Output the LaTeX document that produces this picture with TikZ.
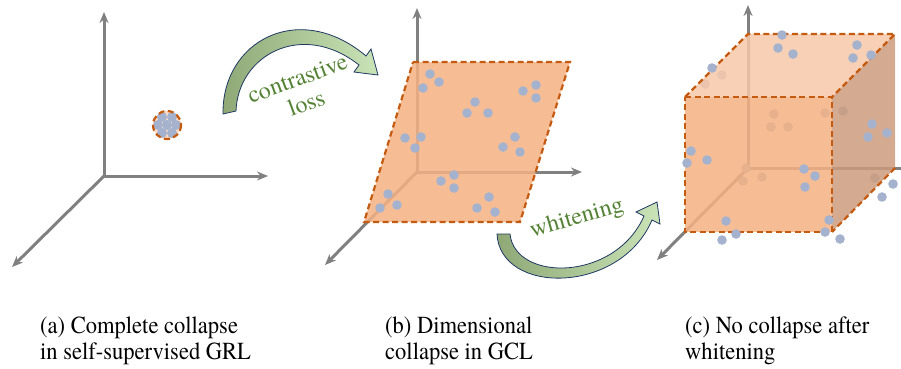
\documentclass[tikz,border=0pt]{standalone}
\usepackage{fontspec}
\IfFontExistsTF{texgyretermes-regular.otf}
  {\setmainfont{texgyretermes-regular.otf}[BoldFont=texgyretermes-bold.otf]
   \newfontfamily\timesface{texgyretermes-regular.otf}
   \newfontfamily\capface{texgyretermes-regular.otf}[FakeStretch=0.92]}
  {\setmainfont{Liberation Serif}
   \newfontfamily\timesface{Liberation Serif}
   \newfontfamily\capface{Liberation Serif}[FakeStretch=0.92]}
\usetikzlibrary{arrows.meta, calc}

\definecolor{axisgray}{RGB}{128,128,128}
\definecolor{rimorange}{RGB}{197,90,17}
\definecolor{planefill}{RGB}{244,177,131}
\definecolor{topfill}{RGB}{247,200,168}
\definecolor{sidefill}{RGB}{204,156,124}
\definecolor{clusterfill}{RGB}{250,218,196}
\definecolor{beadblue}{RGB}{164,178,206}
\definecolor{leafgreen}{RGB}{84,130,53}
\definecolor{arrowdark}{RGB}{143,168,118}
\definecolor{arrowlight}{RGB}{202,228,184}
\definecolor{arrowrim}{RGB}{31,56,100}

\tikzset{
  axisarrow/.style={axisgray, line width=3pt, -{Stealth[length=11pt,width=9pt]}},
  rim/.style={rimorange, line width=2.2pt, dash pattern=on 6pt off 3.5pt},
  bead/.style={fill=beadblue},
  bendarrow/.style={draw=arrowrim, line width=0.8pt, left color=arrowdark, right color=arrowlight},
  caption/.style={anchor=north west, align=left, inner sep=0pt, font=\capface\fontsize{24.5}{26}\selectfont},
  lossword/.style={text=leafgreen, inner sep=0pt, align=center, font=\timesface\fontsize{24}{26}\selectfont},
}

\begin{document}
\begin{tikzpicture}[x=1pt, y=-1pt]
    \useasboundingbox (0,0) rectangle (901,368);

    % (a) complete collapse
    \coordinate (aO) at (104,176);
    \coordinate (aUp) at (104,12);
    \coordinate (aRight) at (268,176);
    \coordinate (aDepth) at (12,267);
    \draw[axisarrow] (aO) -- (aUp);
    \draw[axisarrow] (aO) -- (aRight);
    \draw[axisarrow] (aO) -- (aDepth);

    \coordinate (blob) at (167,125);
    \fill[clusterfill] (blob) circle (14);
    \foreach \dx/\dy in {-5/-8, 5/-8, -9/0, 0/0, 9/0, -5/8, 5/8} {
        \fill[bead] ($(blob)+(\dx,\dy)$) circle (5);
    }
    \draw[rim] (blob) circle (14);

    % contrastive loss arrow
    \draw[bendarrow] (223,114) .. controls (222,40) and (300,0) .. (366,56)
        -- (371,49) -- (378,75) -- (354,72) -- (359,65)
        .. controls (302,20) and (238,55) .. (236,111) -- cycle;
    \node[lossword, rotate=20] (contrastive) at (302,91) {contrastive\\loss};

    % (b) dimensional collapse
    \coordinate (bO) at (417,172);
    \coordinate (bUp) at (417,8);
    \coordinate (bRight) at (582,172);
    \coordinate (bDepth) at (325,265);
    \draw[axisarrow] (bO) -- (bUp);
    \draw[axisarrow] (bO) -- (bRight);
    \draw[axisarrow] (bO) -- (bDepth);

    \draw[rim, fill=planefill, fill opacity=0.85]
        (413,62) -- (570,62) -- (520,222) -- (364,222) -- cycle;
    \foreach \px/\py in {430/74, 439/82, 423/88, 536/85, 523/91, 536/98,
                         475/102, 467/113, 488/113, 405/138, 421/137, 415/148,
                         515/137, 503/147, 520/152, 454/175, 441/181, 454/188,
                         388/194, 397/205, 380/208, 489/197, 477/208, 495/212} {
        \fill[bead] (\px,\py) circle (4.8);
    }

    % whitening arrow
    \draw[bendarrow] (497,234) .. controls (500,295) and (620,295) .. (652,220)
        -- (660,224) -- (657,202) -- (636,212) -- (644,216)
        .. controls (615,282) and (515,282) .. (510,234) -- cycle;
    \node[lossword, rotate=16] (whitening) at (577,219) {whitening};

    % (c) no collapse after whitening
    \coordinate (cO) at (748,168);
    \coordinate (cUp) at (748,5);
    \coordinate (cRight) at (901,168);
    \coordinate (cDepth) at (657,260);
    \draw[axisarrow] (cO) -- (cUp);
    \draw[axisgray, line width=3pt] (cO) -- (cRight);
    \draw[axisarrow] (cO) -- (cDepth);

    % points behind the faces
    \foreach \px/\py in {722/75, 705/84, 774/114, 771/127, 788/127, 825/113,
                         843/111, 746/168, 762/177, 743/181, 875/178} {
        \fill[bead] (\px,\py) circle (4.8);
    }

    \fill[planefill, opacity=0.85] (685,97) -- (832,97) -- (832,232) -- (685,232) -- cycle;
    \fill[topfill, opacity=0.85] (685,97) -- (748,34) -- (895,34) -- (832,97) -- cycle;
    \fill[sidefill, opacity=0.85] (832,97) -- (895,34) -- (895,168) -- (832,232) -- cycle;
    \draw[rim] (685,97) -- (832,97) -- (832,232) -- (685,232) -- cycle;
    \draw[rim] (685,97) -- (748,34) -- (895,34) -- (832,97);
    \draw[rim] (895,168) -- (832,232);

    % points in front
    \foreach \px/\py in {782/35, 778/48, 793/54, 857/45, 853/58, 871/55, 712/68,
                         872/124, 868/137, 887/133, 691/151, 687/163, 707/160,
                         804/169, 815/176, 805/187, 893/184, 882/197,
                         726/221, 736/234, 722/240, 829/220, 825/232, 840/239} {
        \fill[bead] (\px,\py) circle (4.8);
    }

    % captions
    \node[caption] (capA) at (40,317) {(a) Complete collapse\\in self-supervised GRL};
    \node[caption] (capB) at (385,317) {(b) Dimensional\\collapse in GCL};
    \node[caption] (capC) at (685,317) {(c) No collapse after\\whitening};
\end{tikzpicture}
\end{document}
